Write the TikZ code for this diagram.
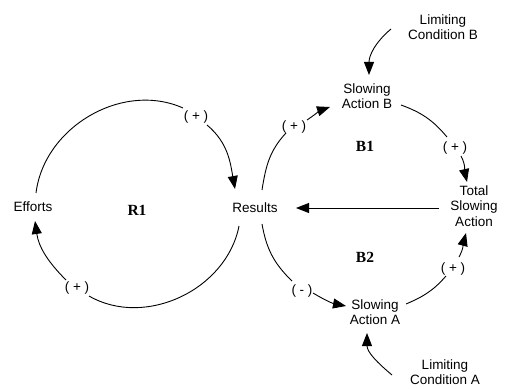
\documentclass[tikz,border=0pt]{standalone}
\usepackage{fontspec}
\usepackage{tikz}
\usetikzlibrary{arrows.meta,calc}
\newfontfamily\varfont{Liberation Sans}
\newfontfamily\loopfont{Liberation Serif}

\begin{document}
\begin{tikzpicture}[x=1pt, y=1pt,
  var/.style={font=\varfont\fontsize{13.5}{15.5}\selectfont, align=center, inner sep=0pt},
  sign/.style={font=\varfont\fontsize{13.5}{15.5}\selectfont, inner sep=0pt},
  loopname/.style={font=\loopfont\bfseries\fontsize{15.5}{17}\selectfont, inner sep=0pt},
  link/.style={line width=0.9pt},
  arrowlink/.style={link, -{Triangle[length=13pt,width=10pt]}}]
  % Fix the page size
  \useasboundingbox (0,0) rectangle (508,388);

  % Variables
  \node[var] (efforts) at (33,181) {Efforts};
  \node[var] (results) at (255,180) {Results};
  \node[var] (total) at (474,182) {Total\\Slowing\\Action};
  \node[var] (slowb) at (367,292) {Slowing\\Action B};
  \node[var] (slowa) at (375,76) {Slowing\\Action A};
  \node[var] (limb) at (443,361) {Limiting\\Condition B};
  \node[var] (lima) at (445,16) {Limiting\\Condition A};

  % Loop names
  \node[loopname] (r1) at (137,178) {R1};
  \node[loopname] (b1) at (365,242) {B1};
  \node[loopname] (b2) at (365,131) {B2};

  % Polarity signs
  \node[sign] (p1) at (196,271) {( + )};
  \node[sign] (p2) at (77,100) {( + )};
  \node[sign] (p3) at (294,261) {( + )};
  \node[sign] (p4) at (455,240) {( + )};
  \node[sign] (m1) at (302,97) {( - )};
  \node[sign] (p5) at (453,119) {( + )};

  % Reinforcing loop R1
  \draw[link] ($(efforts)+(3,14)$) to[out=83,in=156] ($(p1)+(-13,9)$);
  \draw[arrowlink] ($(p1)+(11,-8)$) to[out=-40,in=100] ($(results)+(-20,19)$);
  \draw[link] ($(results)+(-16,-18)$) to[out=-101,in=-30] ($(p2)+(12,-8)$);
  \draw[arrowlink] ($(p2)+(-11,8)$) to[out=135,in=-82] ($(efforts)+(2,-14)$);

  % Balancing loop B1
  \draw[link] ($(results)+(7,18)$) to[out=81,in=-133] ($(p3)+(-8,-6)$);
  \draw[arrowlink] ($(p3)+(13,7)$) to[out=34,in=199] ($(slowb)+(-37,-11)$);
  \draw[link] ($(slowb)+(34,-9)$) to[out=-20,in=130] ($(p4)+(-8,11)$);
  \draw[arrowlink] ($(p4)+(6,-8)$) to[out=-62,in=103] ($(total)+(-7,24)$);
  \draw[arrowlink] ($(total)+(-35,-2)$) -- ($(results)+(41,0)$);

  % Balancing loop B2
  \draw[link] ($(results)+(7,-16)$) to[out=-80,in=136] ($(m1)+(-10,10)$);
  \draw[arrowlink] ($(m1)+(11,-2)$) to[out=-31,in=169] ($(slowa)+(-29,6)$);
  \draw[link] ($(slowa)+(31,8)$) to[out=23,in=-131] ($(p5)+(-7,-7)$);
  \draw[arrowlink] ($(p5)+(6,12)$) to[out=61,in=-105] ($(total)+(-8,-27)$);

  % Limiting conditions
  \draw[arrowlink] ($(limb)+(-52,-2)$) to[out=-140,in=90] ($(slowb)+(2,21)$);
  \draw[arrowlink] ($(lima)+(-53,-3)$) to[out=140,in=-90] ($(slowa)+(-8,-21)$);
\end{tikzpicture}
\end{document}
